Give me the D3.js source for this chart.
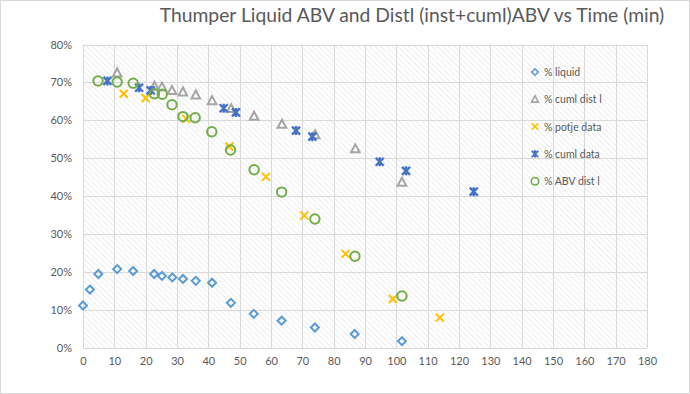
<!DOCTYPE html>
<html>
<head>
<meta charset="utf-8">
<script src="https://cdn.jsdelivr.net/npm/d3@7"></script>
<style>
  html, body { margin: 0; padding: 0; background: #fff; }
  svg text { font-family: Lato, "Open Sans", sans-serif; fill: #595959; }
</style>
</head>
<body>
<svg id="chart" width="690" height="394"></svg>
<script>
// time (min) and ABV fraction (%) for each series
const liquidX = [0, 2.2, 4.9, 10.9, 16.0, 22.7, 25.2, 28.5, 31.9, 36.0, 41.2, 47.2, 54.5, 63.4, 74.0, 86.7, 101.8];
const liquidY = [11.2, 15.4, 19.5, 20.8, 20.3, 19.5, 19.0, 18.6, 18.2, 17.7, 17.2, 11.9, 9.0, 7.2, 5.4, 3.7, 1.8];

const cumlDistlX = [10.9, 22.8, 25.2, 28.4, 31.9, 36.0, 41.2, 47.3, 54.6, 63.5, 74.1, 86.9, 101.8];
const cumlDistlY = [72.5, 69.0, 68.8, 67.9, 67.5, 66.7, 65.2, 63.1, 61.1, 59.0, 56.2, 52.5, 43.7];

const potjeX = [13.0, 20.0, 32.9, 46.7, 58.4, 70.6, 83.8, 98.9, 113.9];
const potjeY = [67.0, 65.9, 60.4, 53.1, 45.1, 34.9, 24.8, 12.9, 8.0];

const cumlDataX = [7.8, 17.9, 21.6, 44.9, 48.8, 68.0, 73.2, 94.7, 103.1, 124.7];
const cumlDataY = [70.4, 68.6, 67.9, 63.2, 62.1, 57.3, 55.7, 49.1, 46.7, 41.2];

const abvDistlX = [4.8, 10.9, 16.0, 22.8, 25.3, 28.4, 31.9, 35.8, 41.1, 47.1, 54.6, 63.4, 74.0, 86.8, 101.8];
const abvDistlY = [70.4, 70.1, 69.8, 67.0, 66.9, 64.1, 61.0, 60.7, 57.0, 52.2, 47.0, 41.1, 34.0, 24.2, 13.7];

const xTicks = d3.range(0, 181, 10);
const yTicks = d3.range(0, 81, 10);

const series = [
  { name: "% liquid", xs: liquidX, ys: liquidY, shape: "diamond", color: "#5b9bd5" },
  { name: "% cuml dist l", xs: cumlDistlX, ys: cumlDistlY, shape: "triangle", color: "#a5a5a5" },
  { name: "% potje data", xs: potjeX, ys: potjeY, shape: "cross", color: "#ffc000" },
  { name: "% cuml data", xs: cumlDataX, ys: cumlDataY, shape: "star", color: "#4472c4" },
  { name: "% ABV dist l", xs: abvDistlX, ys: abvDistlY, shape: "circle", color: "#70ad47" }
];

const svg = d3.select("#chart");
const W = 690, H = 394;
const m = { left: 83, right: 43, top: 44.5, bottom: 46 };

const x = d3.scaleLinear().domain([0, 180]).range([m.left, W - m.right]);
const y = d3.scaleLinear().domain([0, 80]).range([H - m.bottom, m.top]);

// outer border
svg.append("rect")
  .attr("x", 0.5).attr("y", 0.5)
  .attr("width", W - 1).attr("height", H - 1)
  .attr("fill", "#fff").attr("stroke", "#d9d9d9");

// hatch fill for plot area ("\" direction)
const defs = svg.append("defs");
const pat = defs.append("pattern")
  .attr("id", "hatch")
  .attr("patternUnits", "userSpaceOnUse")
  .attr("width", 4).attr("height", 4)
  .attr("patternTransform", "rotate(-45)");
pat.append("line")
  .attr("x1", 0).attr("y1", 0).attr("x2", 0).attr("y2", 4)
  .attr("stroke", "#dcdcdc").attr("stroke-width", 1);

svg.append("rect")
  .attr("x", x(0)).attr("y", y(80))
  .attr("width", x(180) - x(0)).attr("height", y(0) - y(80))
  .attr("fill", "url(#hatch)");

// gridlines
const grid = svg.append("g");
grid.selectAll(".gy").data(yTicks).enter().append("line")
  .attr("x1", x(0)).attr("x2", x(180))
  .attr("y1", d => Math.round(y(d)) + 0.5).attr("y2", d => Math.round(y(d)) + 0.5)
  .attr("stroke", "#d9d9d9");
grid.selectAll(".gx").data(xTicks).enter().append("line")
  .attr("y1", y(0)).attr("y2", y(80))
  .attr("x1", d => Math.round(x(d)) + 0.5).attr("x2", d => Math.round(x(d)) + 0.5)
  .attr("stroke", "#d9d9d9");

// axes
const xAxis = svg.append("g")
  .attr("transform", `translate(0,${y(0)})`)
  .call(d3.axisBottom(x).tickValues(xTicks).tickSize(0).tickPadding(9));
const yAxis = svg.append("g")
  .attr("transform", `translate(${x(0)},0)`)
  .call(d3.axisLeft(y).tickValues(yTicks).tickSize(0).tickPadding(11).tickFormat(d => d + "%"));
[xAxis, yAxis].forEach(a => {
  a.select(".domain").remove();
  a.selectAll("text").attr("font-size", 11).attr("fill", "#595959")
    .style("font-family", "Lato, sans-serif");
});

// marker drawing
function marker(g, shape, color) {
  if (shape === "diamond") {
    g.append("path").attr("d", "M0,-4L4,0L0,4L-4,0Z")
      .attr("fill", "none").attr("stroke", color).attr("stroke-width", 2);
  } else if (shape === "triangle") {
    g.append("path").attr("d", "M0,-4.5L4.3,3.5L-4.3,3.5Z")
      .attr("fill", "none").attr("stroke", color).attr("stroke-width", 2);
  } else if (shape === "cross") {
    g.append("path").attr("d", "M-4,-4L4,4M4,-4L-4,4")
      .attr("fill", "none").attr("stroke", color).attr("stroke-width", 2);
  } else if (shape === "star") {
    g.append("path").attr("d", "M-4,-4L4,4M4,-4L-4,4M0,-4.5L0,4.5")
      .attr("fill", "none").attr("stroke", color).attr("stroke-width", 2.4);
  } else {
    g.append("circle").attr("r", 4.7)
      .attr("fill", "none").attr("stroke", color).attr("stroke-width", 2);
  }
}

series.forEach(s => {
  const pts = s.xs.map((v, i) => [v, s.ys[i]]);
  svg.append("g").selectAll("g").data(pts).enter().append("g")
    .attr("transform", d => `translate(${x(d[0])},${y(d[1])})`)
    .each(function() { marker(d3.select(this), s.shape, s.color); });
});

// legend
const legend = svg.append("g").attr("transform", "translate(535,72)");
series.forEach((s, i) => {
  const row = legend.append("g").attr("transform", `translate(0,${i * 27.3})`);
  const mk = row.append("g").attr("transform", "scale(0.8)");
  marker(mk, s.shape, s.color);
  row.append("text").attr("x", 9).attr("y", 4)
    .attr("font-size", 10.5).text(s.name);
});

// title
svg.append("text")
  .attr("x", 412).attr("y", 22)
  .attr("text-anchor", "middle")
  .attr("font-size", 19.3)
  .text("Thumper Liquid ABV and Distl (inst+cuml)ABV vs Time (min)");
</script>
</body>
</html>
